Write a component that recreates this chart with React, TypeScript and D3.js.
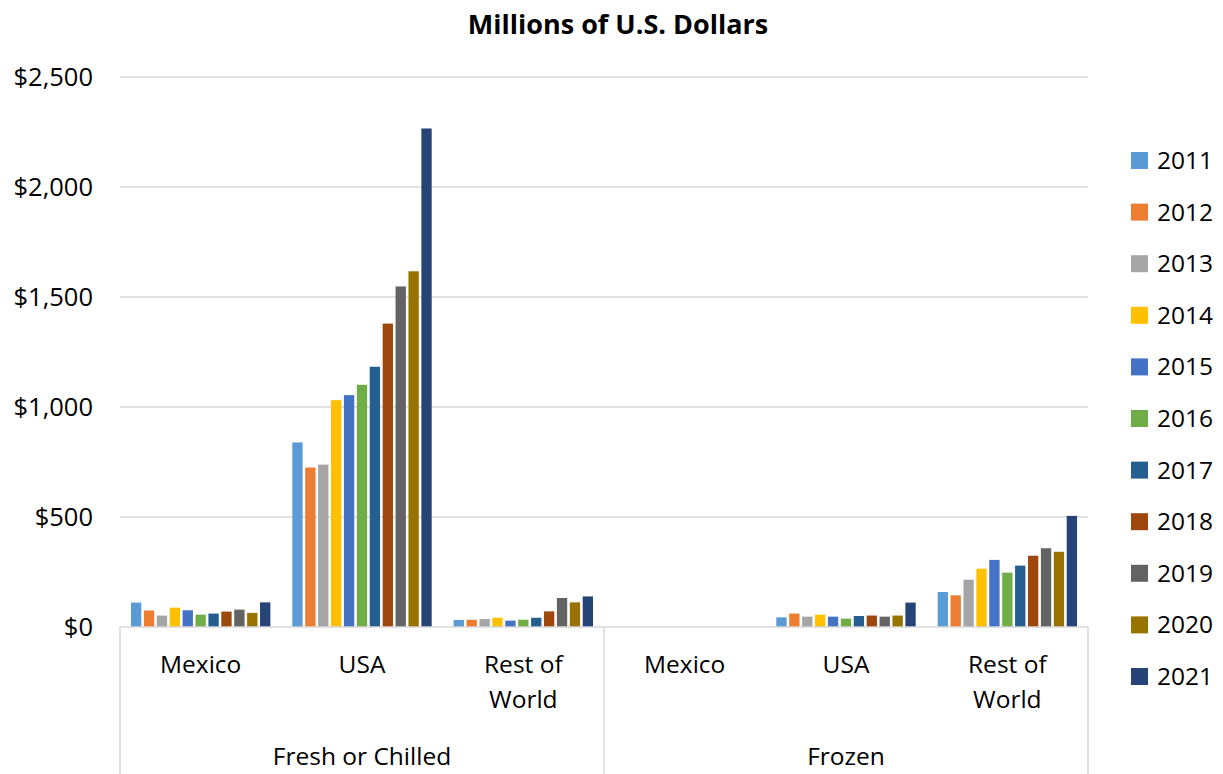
import React from "react";
import * as d3 from "d3";

const years = ["2011", "2012", "2013", "2014", "2015", "2016", "2017", "2018", "2019", "2020", "2021"];
const groups = ["Fresh or Chilled", "Frozen"];
const regions = ["Mexico", "USA", "Rest of World"];
const colors = ["#5B9BD5", "#ED7D31", "#A5A5A5", "#FFC000", "#4472C4", "#70AD47", "#255E91", "#9E480E", "#636363", "#997300", "#264478"];

// values per category (group|region), in year order
const freshMexico = [111, 75, 52, 88, 76, 56, 61, 70, 79, 64, 112];
const freshUSA = [839, 725, 738, 1031, 1054, 1101, 1183, 1379, 1548, 1617, 2266];
const freshRoW = [32, 33, 36, 42, 29, 33, 42, 71, 132, 112, 139];
const frozenMexico = [0, 0, 0, 0, 0, 0, 0, 0, 0, 0, 0];
const frozenUSA = [44, 61, 47, 56, 47, 38, 50, 52, 47, 52, 111];
const frozenRoW = [159, 144, 215, 265, 305, 247, 279, 324, 358, 342, 505];

const yTicks = [0, 500, 1000, 1500, 2000, 2500];

const series = [freshMexico, freshUSA, freshRoW, frozenMexico, frozenUSA, frozenRoW];

const W = 1223, H = 774;
const left = 120, right = 1088, top = 77, bottom = 627;
const FONT = "'Open Sans', 'Noto Sans', sans-serif";

export default function App() {
  const cats = groups.flatMap((g) => regions.map((r) => `${g}|${r}`));
  const x = d3.scaleBand<string>().domain(cats).range([left, right]).padding(0);
  const inner = d3.scaleBand<string>().domain(years).range([0, x.bandwidth()]).paddingOuter(0.85).paddingInner(0.2);
  const y = d3.scaleLinear().domain([0, 2500]).range([bottom, top]);
  const fmt = (v: number) => "$" + d3.format(",")(v);
  const groupX = d3.scaleBand<string>().domain(groups).range([left, right]);

  return (
    <svg width={W} height={H} style={{ position: "absolute", left: 0, top: 0, background: "#fff" }} fontFamily={FONT}>
      <text x={618} y={34} textAnchor="middle" fontSize={27} fontWeight="bold" fill="#000">Millions of U.S. Dollars</text>
      {yTicks.map((t) => (
        <g key={t}>
          {t > 0 && <line x1={left} x2={right} y1={y(t)} y2={y(t)} stroke="#d9d9d9" strokeWidth={1.5} />}
          <text x={93} y={y(t) + 9} textAnchor="end" fontSize={25.5} fill="#000">{fmt(t)}</text>
        </g>
      ))}
      {cats.map((c, ci) => (
        <g key={c} transform={`translate(${x(c)},0)`}>
          {series[ci].map((v, i) => (
            <rect key={i} x={inner(years[i])} y={y(v)} width={inner.bandwidth()} height={bottom - y(v)} fill={colors[i]} />
          ))}
        </g>
      ))}
      <line x1={left} x2={right} y1={bottom} y2={bottom} stroke="#d9d9d9" strokeWidth={1.5} />
      {[left, (left + right) / 2, right].map((vx, i) => (
        <line key={i} x1={vx} x2={vx} y1={bottom} y2={H} stroke="#d9d9d9" strokeWidth={1.5} />
      ))}
      {cats.map((c) => {
        const r = c.split("|")[1];
        const cx = (x(c) as number) + x.bandwidth() / 2;
        const lines = r === "Rest of World" ? ["Rest of", "World"] : [r];
        return lines.map((ln, li) => (
          <text key={c + li} x={cx} y={673 + li * 35} textAnchor="middle" fontSize={24.5} fill="#000">{ln}</text>
        ));
      })}
      {groups.map((g) => (
        <text key={g} x={(groupX(g) as number) + groupX.bandwidth() / 2} y={765} textAnchor="middle" fontSize={24.5} fill="#000">{g}</text>
      ))}
      {years.map((yr, i) => (
        <g key={yr} transform={`translate(1131,${160 + i * 51.6})`}>
          <rect x={0} y={-8} width={17} height={17} fill={colors[i]} />
          <text x={26} y={9} fontSize={24.5} fill="#000">{yr}</text>
        </g>
      ))}
    </svg>
  );
}
